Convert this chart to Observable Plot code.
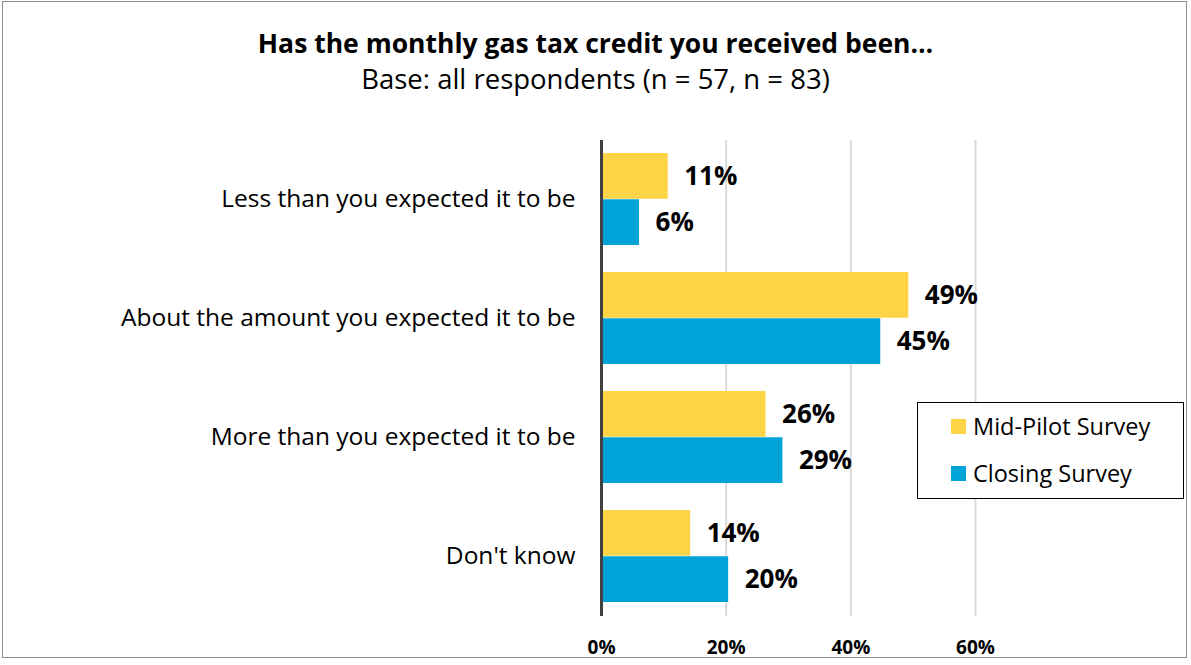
<!DOCTYPE html>
<html>
<head>
<meta charset="utf-8">
<script src="https://cdn.jsdelivr.net/npm/d3@7"></script>
<script src="https://cdn.jsdelivr.net/npm/@observablehq/plot@0.6"></script>
<style>
  html, body { margin: 0; padding: 0; background: #fff; }
  #wrap { position: relative; width: 1191px; height: 665px; overflow: hidden; font-family: "Open Sans", sans-serif; }
  #frame { position: absolute; left: 2px; top: 1px; width: 1185px; height: 657px; border: 1px solid #8c8c8c; box-sizing: border-box; }
  #title { position: absolute; left: 0; width: 1191px; top: 25px; text-align: center; font-size: 26.5px; font-weight: 700; color: #000; line-height: 36px; }
  #subtitle { position: absolute; left: 0; width: 1191px; top: 61px; text-align: center; font-size: 27.5px; color: #000; line-height: 36px; }
  #chart { position: absolute; left: 0; top: 0; }
  #legend { position: absolute; left: 917px; top: 402px; width: 267px; height: 97px; border: 1.5px solid #000; box-sizing: border-box; background: #fff; font-size: 23.5px; }
  .item { position: absolute; left: 33px; display: flex; align-items: center; line-height: 30px; }
  .sw { width: 15px; height: 15px; margin-right: 7px; }
</style>
</head>
<body>
<div id="wrap">
  <div id="frame"></div>
  <div id="chart"></div>
  <div id="title"></div>
  <div id="subtitle"></div>
  <div id="legend"></div>
</div>
<script>
const titleText = "Has the monthly gas tax credit you received been…";
const subtitleText = "Base: all respondents (n = 57, n = 83)";
const categories = [
  "Less than you expected it to be",
  "About the amount you expected it to be",
  "More than you expected it to be",
  "Don't know"
];
const seriesNames = ["Mid-Pilot Survey", "Closing Survey"];
const seriesColors = ["#FDD446", "#00A3D7"];
const midPilot = [10.7, 49.3, 26.4, 14.3];
const closing = [6.1, 44.8, 29.1, 20.4];
const xTicks = [0, 20, 40, 60];

document.getElementById("title").textContent = titleText;
document.getElementById("subtitle").textContent = subtitleText;

const W = 1191, H = 665;
const mTop = 140, mBottom = 49, mLeft = 601, mRight = 216;
const FONT = "'Open Sans', sans-serif";

const yOpts = { domain: categories, range: [mTop, H - mBottom], paddingInner: 0.223, paddingOuter: 0.11 };
const bw = Plot.scale({ y: { type: "band", ...yOpts } }).bandwidth;

const data = [];
categories.forEach((c, i) => {
  data.push({ category: c, series: seriesNames[0], value: midPilot[i] });
  data.push({ category: c, series: seriesNames[1], value: closing[i] });
});
const mid = data.filter(d => d.series === seriesNames[0]);
const clo = data.filter(d => d.series === seriesNames[1]);

const chart = Plot.plot({
  width: W,
  height: H,
  marginTop: mTop,
  marginBottom: mBottom,
  marginLeft: mLeft,
  marginRight: mRight,
  style: { fontFamily: FONT, background: "transparent" },
  x: { domain: [0, 60], ticks: xTicks },
  y: { type: "band", ...yOpts },
  marks: [
    Plot.ruleX(xTicks.filter(t => t > 0), { stroke: "#d9d9d9", strokeWidth: 2 }),
    Plot.barX(mid, { x: "value", y: "category", fill: seriesColors[0], insetBottom: bw / 2, insetTop: 0 }),
    Plot.barX(clo, { x: "value", y: "category", fill: seriesColors[1], insetTop: bw / 2, insetBottom: 0 }),
    Plot.text(mid, { x: "value", y: "category", text: d => Math.round(d.value) + "%", dy: -bw / 4, dx: 16, textAnchor: "start", fontSize: 26, fontWeight: 700, fill: "#000" }),
    Plot.text(clo, { x: "value", y: "category", text: d => Math.round(d.value) + "%", dy: bw / 4, dx: 16, textAnchor: "start", fontSize: 26, fontWeight: 700, fill: "#000" }),
    Plot.ruleX([0], { stroke: "#404040", strokeWidth: 3 }),
    Plot.axisX({ ticks: xTicks, tickFormat: d => d + "%", tickSize: 0, tickPadding: 24, fontSize: 19, fontWeight: 700, fill: "#000", label: null }),
    Plot.axisY({ tickSize: 0, tickPadding: 26, fontSize: 24.5, fill: "#000", label: null })
  ]
});
document.getElementById("chart").appendChild(chart);

const legend = document.getElementById("legend");
seriesNames.forEach((s, i) => {
  const it = document.createElement("div");
  it.className = "item";
  it.style.top = (i === 0 ? 8 : 55) + "px";
  const sw = document.createElement("div");
  sw.className = "sw";
  sw.style.background = seriesColors[i];
  const tx = document.createElement("span");
  tx.textContent = s;
  it.appendChild(sw);
  it.appendChild(tx);
  legend.appendChild(it);
});
</script>
</body>
</html>
